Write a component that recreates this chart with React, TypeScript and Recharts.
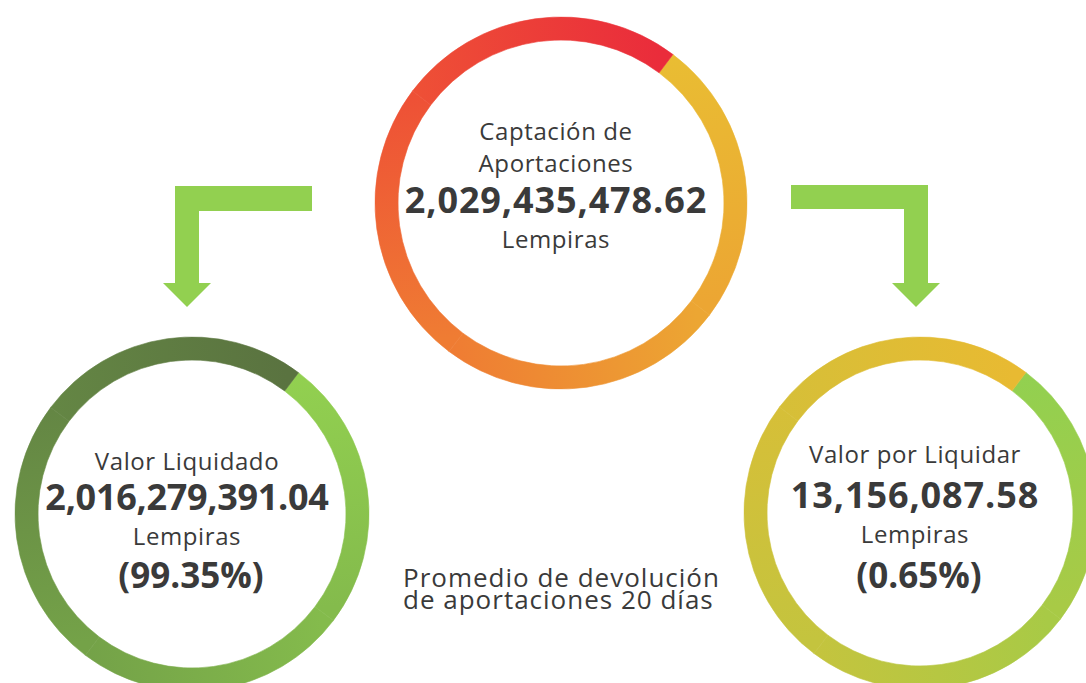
import { Cell, Pie, PieChart } from 'recharts';

const W = 1086;
const H = 683;

// ring texts
const ringLabels = [['Captación de', 'Aportaciones'], ['Valor Liquidado'], ['Valor por Liquidar']];
const ringAmounts = ['2,029,435,478.62', '2,016,279,391.04', '13,156,087.58'];
const ringUnits = ['Lempiras', 'Lempiras', 'Lempiras'];
const ringShares = ['', '(99.35%)', '(0.65%)'];
const noteLines = ['Promedio de devolución', 'de aportaciones 20 días'];

// each ring is a full circle drawn as four equal arcs (for the gradient)
const ringArcs = [
  { arc: 'q1', value: 25 },
  { arc: 'q2', value: 25 },
  { arc: 'q3', value: 25 },
  { arc: 'q4', value: 25 },
];

const SEAM = 53; // degrees, where the colour jumps

// layout + colours (clockwise from seam)
const RINGS = [
  {
    id: 'top', cx: 556, cy: 198, r: 186, textX: 556, amountLs: 0.9,
    stops: ['#e9bd33', '#eca633', '#ef7c33', '#ee5036', '#ea2c3b'],
    labelY: [140, 172], amountY: 213, unitY: 248, shareY: 0,
  },
  {
    id: 'left', cx: 187, cy: 509, r: 177, textX: 187, amountLs: -0.3,
    stops: ['#92d050', '#84bb4c', '#74a248', '#648644', '#5a7340'],
    labelY: [470], amountY: 510, unitY: 545, shareY: 588,
  },
  {
    id: 'right', cx: 915, cy: 508, r: 176, textX: 915, amountLs: 0.9,
    stops: ['#92d050', '#a8ca46', '#c4c43e', '#d6bf38', '#e8ba32'],
    labelY: [463], amountY: 508, unitY: 543, shareY: 588,
  },
];

const THICK = 23;
const GREEN = '#92d050';
const TEXT = '#3a3a3a';
const FONT = '"Open Sans", sans-serif';

function pt(cx: number, cy: number, r: number, deg: number) {
  const a = (deg * Math.PI) / 180;
  return [cx + r * Math.cos(a), cy - r * Math.sin(a)];
}

export default function App() {
  return (
    <div style={{ position: 'absolute', left: 0, top: 0, width: W, height: H, overflow: 'hidden', background: '#fff' }}>
      <svg width={0} height={0} style={{ position: 'absolute' }}>
        <defs>
          {RINGS.map((ring) =>
            ringArcs.map((_, i) => {
              const rm = ring.r - THICK / 2;
              const [x1, y1] = pt(ring.cx, ring.cy, rm, SEAM - 90 * i);
              const [x2, y2] = pt(ring.cx, ring.cy, rm, SEAM - 90 * (i + 1));
              return (
                <linearGradient key={`${ring.id}${i}`} id={`g-${ring.id}-${i}`} gradientUnits="userSpaceOnUse" x1={x1} y1={y1} x2={x2} y2={y2}>
                  <stop offset="0" stopColor={ring.stops[i]} />
                  <stop offset="1" stopColor={ring.stops[i + 1]} />
                </linearGradient>
              );
            })
          )}
        </defs>
      </svg>

      <PieChart width={W} height={H} style={{ position: 'absolute', left: 0, top: 0 }}>
        {RINGS.map((ring) => (
          <Pie
            key={ring.id}
            data={ringArcs}
            dataKey="value"
            nameKey="arc"
            cx={ring.cx}
            cy={ring.cy}
            outerRadius={ring.r}
            innerRadius={ring.r - THICK}
            startAngle={SEAM}
            endAngle={SEAM - 360}
            isAnimationActive={false}
          >
            {ringArcs.map((a, i) => (
              <Cell key={a.arc} fill={`url(#g-${ring.id}-${i})`} stroke={`url(#g-${ring.id}-${i})`} strokeWidth={0.6} />
            ))}
          </Pie>
        ))}
      </PieChart>

      <svg width={W} height={H} style={{ position: 'absolute', left: 0, top: 0 }} fontFamily={FONT}>
        <polygon fill={GREEN} points="312,186 175,186 175,283 163,283 187,307 211,283 199,283 199,211 312,211" />
        <polygon fill={GREEN} points="791,185 928,185 928,283 940,283 916,307 892,283 904,283 904,209 791,209" />

        {RINGS.map((ring, k) => (
          <g key={ring.id} textAnchor="middle" fill={TEXT}>
            {ringLabels[k].map((line, j) => (
              <text key={line} x={ring.textX} y={ring.labelY[j]} fontSize={24} letterSpacing={0.6}>{line}</text>
            ))}
            <text x={ring.textX} y={ring.amountY} fontSize={36} fontWeight={700} letterSpacing={ring.amountLs}>{ringAmounts[k]}</text>
            <text x={ring.textX} y={ring.unitY} fontSize={24} letterSpacing={0.6}>{ringUnits[k]}</text>
            {ringShares[k] && (
              <text x={ring.textX + 4} y={ring.shareY} fontSize={35} fontWeight={700}>{ringShares[k]}</text>
            )}
          </g>
        ))}

        {noteLines.map((line, j) => (
          <text key={line} x={403} y={587 + j * 22} fontSize={26} letterSpacing={1} fill={TEXT}>{line}</text>
        ))}
      </svg>
    </div>
  );
}
